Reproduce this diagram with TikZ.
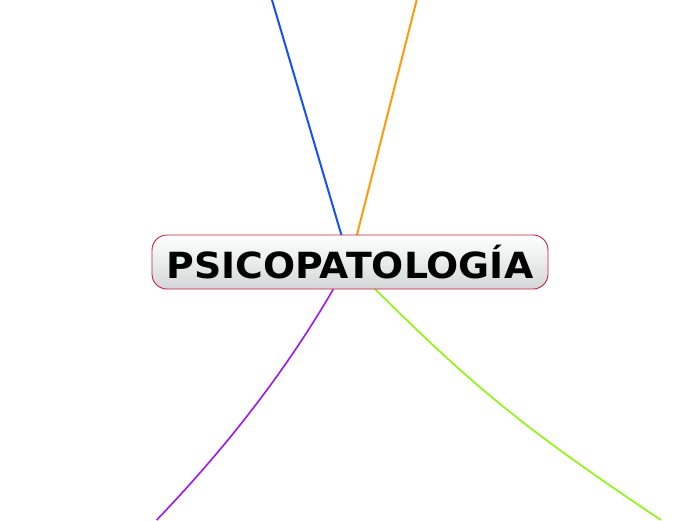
\documentclass[tikz,border=0pt]{standalone}
\usepackage{fontspec}
\newfontfamily\titlefont[FakeStretch=1.05]{DejaVu Sans Bold}
\definecolor{boxred}{RGB}{200,30,58}
\definecolor{boxbot}{RGB}{212,215,215}
\definecolor{lblue}{RGB}{20,80,255}
\definecolor{lorange}{RGB}{255,155,10}
\definecolor{lpurple}{RGB}{160,20,250}
\definecolor{lgreen}{RGB}{140,245,10}
\tikzset{
  central/.style={draw=boxred, line width=0.9pt, rounded corners=15pt,
    top color=white, bottom color=boxbot, minimum width=396pt, minimum height=54pt,
    inner sep=0pt, font=\titlefont\fontsize{36}{40}\selectfont, text=black},
  branch/.style={line width=2pt},
  thinbranch/.style={line width=1.6pt},
}
\begin{document}
\begin{tikzpicture}[x=1pt,y=-1pt]
\useasboundingbox (0,0) rectangle (696,520);
\coordinate (bt) at (272,0);
\coordinate (ot) at (416.7,0);
\coordinate (pb) at (156.7,520);
\coordinate (gb) at (661,520);
\coordinate (bs) at (341.7,236);
\coordinate (os) at (356.7,236);
\coordinate (ps) at (334,288);
\coordinate (gs) at (374,288);
\draw[branch, lblue] (bs) -- (bt);
\draw[branch, lorange] (os) -- (ot);
\draw[thinbranch, lpurple] (ps) .. controls (288.7,366.3) and (230.2,443.3) .. (pb);
\draw[thinbranch, lgreen] (gs) .. controls (471,384) and (520,426) .. (gb);
\node[central] (c) at (350,262) {\raisebox{-1pt}{PSICOPATOLOG\'IA}};
\end{tikzpicture}
\end{document}
